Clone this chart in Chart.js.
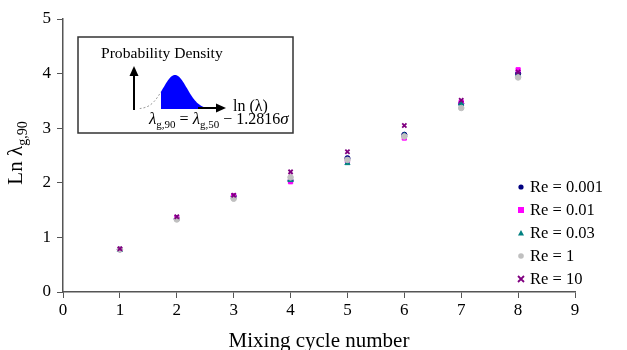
<!DOCTYPE html>
<html>
<head>
<meta charset="utf-8">
<script src="https://cdn.jsdelivr.net/npm/chart.js@4/dist/chart.umd.min.js"></script>
<style>
  html, body { margin: 0; padding: 0; background: #fff; }
  #wrap { width: 627px; height: 350px; position: relative; }
</style>
</head>
<body>
<div id="wrap"><canvas id="chart"></canvas></div>
<script>
// data
let cycles = [1, 2, 3, 4, 5, 6, 7, 8];
let re0001 = [0.78, 1.34, 1.75, 2.04, 2.45, 2.88, 3.45, 4.00];
let re001 = [0.78, 1.36, 1.76, 2.02, 2.40, 2.82, 3.48, 4.07];
let re003 = [0.77, 1.35, 1.74, 2.05, 2.36, 2.87, 3.45, 3.98];
let re1 = [0.78, 1.33, 1.71, 2.10, 2.42, 2.85, 3.37, 3.93];
let re10 = [0.79, 1.38, 1.77, 2.20, 2.57, 3.05, 3.51, 4.03];
let seriesLabels = ["Re = 0.001", "Re = 0.01", "Re = 0.03", "Re = 1", "Re = 10"];
let xTicks = [0, 1, 2, 3, 4, 5, 6, 7, 8, 9];
let yTicks = [0, 1, 2, 3, 4, 5];

const SERIF = "'Liberation Serif', 'DejaVu Serif', serif";
const AXIS = "#555";

function pts(vals) {
  return cycles.map((c, i) => ({ x: c, y: vals[i] }));
}

let styles = [
  { color: "#000080", style: "circle", r: 2.6 },
  { color: "#FF00FF", style: "rect", r: 3 },
  { color: "#008080", style: "triangle", r: 3 },
  { color: "#C0C0C0", style: "circle", r: 2.8 },
  { color: "#800080", style: "crossRot", r: 3 }
];
let allVals = [re0001, re001, re003, re1, re10];

// later series on top, like the original
let datasets = allVals.map((v, i) => ({
  label: seriesLabels[i],
  data: pts(v),
  order: allVals.length - i,
  pointStyle: styles[i].style,
  pointRadius: styles[i].r,
  pointBackgroundColor: styles[i].color,
  pointBorderColor: styles[i].color,
  pointBorderWidth: styles[i].style === "crossRot" ? 1.8 : 1,
  showLine: false
}));

// draw one marker by hand (used for the legend)
function marker(ctx, style, color, x, y, r) {
  ctx.save();
  ctx.fillStyle = color;
  ctx.strokeStyle = color;
  ctx.lineWidth = style === "crossRot" ? 1.8 : 1;
  ctx.beginPath();
  if (style === "circle") {
    ctx.arc(x, y, r, 0, Math.PI * 2);
    ctx.fill();
  } else if (style === "rect") {
    ctx.fillRect(x - r, y - r, 2 * r, 2 * r);
  } else if (style === "triangle") {
    ctx.moveTo(x, y - r);
    ctx.lineTo(x + r, y + r * 0.8);
    ctx.lineTo(x - r, y + r * 0.8);
    ctx.closePath();
    ctx.fill();
  } else {
    ctx.moveTo(x - r, y - r); ctx.lineTo(x + r, y + r);
    ctx.moveTo(x + r, y - r); ctx.lineTo(x - r, y + r);
    ctx.stroke();
  }
  ctx.restore();
}

function arrow(ctx, x1, y1, x2, y2) {
  let a = Math.atan2(y2 - y1, x2 - x1);
  ctx.beginPath();
  ctx.moveTo(x1, y1);
  ctx.lineTo(x2 - 6 * Math.cos(a), y2 - 6 * Math.sin(a));
  ctx.lineWidth = 2;
  ctx.stroke();
  ctx.beginPath();
  ctx.moveTo(x2, y2);
  ctx.lineTo(x2 - 10 * Math.cos(a) + 4.5 * Math.sin(a), y2 - 10 * Math.sin(a) - 4.5 * Math.cos(a));
  ctx.lineTo(x2 - 10 * Math.cos(a) - 4.5 * Math.sin(a), y2 - 10 * Math.sin(a) + 4.5 * Math.cos(a));
  ctx.closePath();
  ctx.fill();
}

// text with a subscript part, returns width
function subText(ctx, parts, x, y, draw) {
  let w = 0;
  parts.forEach(p => {
    ctx.font = p.font;
    if (draw) ctx.fillText(p.t, x + w, y + (p.dy || 0));
    w += ctx.measureText(p.t).width;
  });
  return w;
}

const extras = {
  id: "extras",
  afterDraw(chart) {
    let ctx = chart.ctx;
    let area = chart.chartArea;
    ctx.save();
    ctx.fillStyle = "#000";
    ctx.textBaseline = "alphabetic";

    // x title
    ctx.font = "21px " + SERIF;
    ctx.textAlign = "center";
    ctx.fillText("Mixing cycle number", (area.left + area.right) / 2, 347);

    // y title, rotated, with subscript
    ctx.textAlign = "left";
    let yParts = [
      { t: "Ln λ", font: "21px " + SERIF },
      { t: "g,90", font: "14px " + SERIF, dy: 5 }
    ];
    let w = subText(ctx, yParts, 0, 0, false);
    ctx.save();
    ctx.translate(22, 153);
    ctx.rotate(-Math.PI / 2);
    subText(ctx, yParts, -w / 2, 0, true);
    ctx.restore();

    // legend
    ctx.font = "16.5px " + SERIF;
    ctx.textBaseline = "middle";
    seriesLabels.forEach((lab, i) => {
      let y = 187 + i * 23;
      marker(ctx, styles[i].style, styles[i].color, 521, y, styles[i].r);
      ctx.fillStyle = "#000";
      ctx.fillText(lab, 530, y + 1);
    });

    // inset box
    ctx.fillStyle = "#fff";
    ctx.fillRect(78, 37, 215, 96);
    ctx.strokeStyle = "#333";
    ctx.lineWidth = 1.5;
    ctx.strokeRect(78, 37, 215, 96);

    ctx.fillStyle = "#000";
    ctx.textBaseline = "alphabetic";
    ctx.font = "15.6px " + SERIF;
    ctx.fillText("Probability Density", 101, 58);

    ctx.strokeStyle = "#000";
    arrow(ctx, 134, 110, 134, 66);

    // density sketch: dashed tail then filled part
    let base = 109;
    let f = x => base - 34 * Math.exp(-Math.pow((x - 175) / 17, 2));
    ctx.beginPath();
    ctx.setLineDash([2, 2]);
    ctx.strokeStyle = "#999";
    ctx.lineWidth = 1;
    ctx.moveTo(140, base);
    for (let x = 140; x <= 161; x++) ctx.lineTo(x, f(x));
    ctx.stroke();
    ctx.setLineDash([]);
    ctx.beginPath();
    ctx.moveTo(161, base);
    for (let x = 161; x <= 204; x++) ctx.lineTo(x, f(x));
    ctx.lineTo(204, base);
    ctx.closePath();
    ctx.fillStyle = "#0000FF";
    ctx.fill();

    ctx.fillStyle = "#000";
    ctx.strokeStyle = "#000";
    arrow(ctx, 198, 108, 226, 108);

    ctx.font = "16px " + SERIF;
    ctx.fillText("ln (λ)", 233, 111);

    let fParts = [
      { t: "λ", font: "italic 17px " + SERIF },
      { t: "g,90", font: "11px " + SERIF, dy: 4 },
      { t: " = ", font: "16px " + SERIF },
      { t: "λ", font: "italic 17px " + SERIF },
      { t: "g,50", font: "11px " + SERIF, dy: 4 },
      { t: " − 1.2816", font: "16px " + SERIF },
      { t: "σ", font: "italic 17px " + SERIF }
    ];
    subText(ctx, fParts, 149, 124, true);
    ctx.restore();
  }
};

new Chart(document.getElementById("chart"), {
  type: "scatter",
  data: { datasets },
  plugins: [extras],
  options: {
    responsive: true,
    maintainAspectRatio: false,
    animation: false,
    layout: { padding: { top: 19, right: 52, left: 0, bottom: 0 } },
    plugins: { legend: { display: false }, tooltip: { enabled: false } },
    scales: {
      x: {
        type: "linear",
        min: 0, max: 9,
        afterBuildTicks: s => { s.ticks = xTicks.map(v => ({ value: v })); },
        afterFit: s => { s.height = 58; },
        border: { color: AXIS, width: 1.5 },
        grid: { drawOnChartArea: false, color: AXIS, tickLength: 6, offset: false },
        ticks: { color: "#000", font: { family: SERIF, size: 17 }, padding: 2 }
      },
      y: {
        type: "linear",
        min: 0, max: 5,
        afterBuildTicks: s => { s.ticks = yTicks.map(v => ({ value: v })); },
        afterFit: s => { s.width = 63; },
        border: { color: AXIS, width: 1.5 },
        grid: { drawOnChartArea: false, color: AXIS, tickLength: 6 },
        ticks: { color: "#000", font: { family: SERIF, size: 17 }, padding: 6 }
      }
    }
  }
});
</script>
</body>
</html>
